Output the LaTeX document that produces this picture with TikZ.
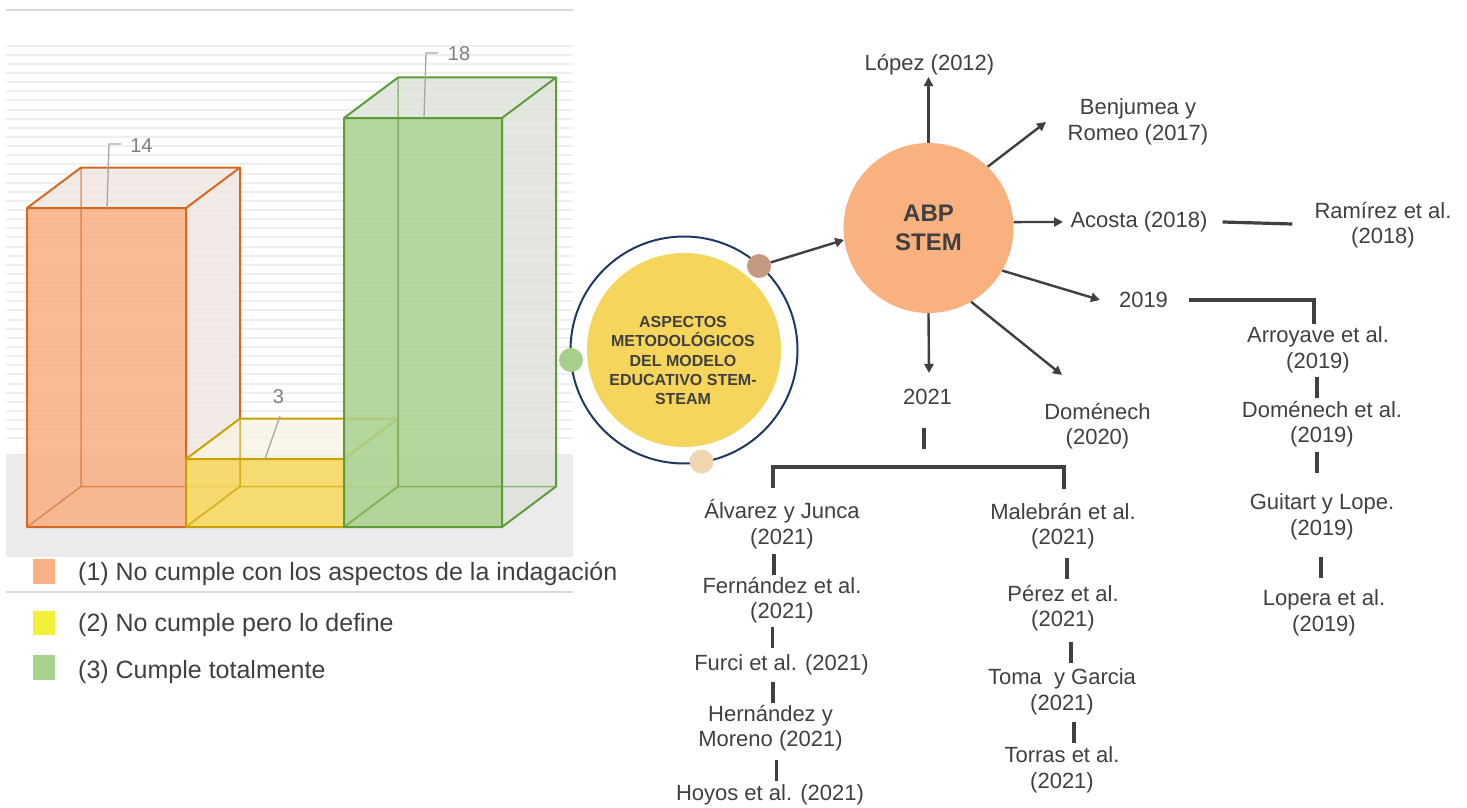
\documentclass[tikz,border=0pt]{standalone}
\usepackage{fontspec}
\setmainfont{Liberation Sans}
\usetikzlibrary{arrows.meta,calc}

\definecolor{inkgray}{HTML}{404040}
\definecolor{valgray}{HTML}{7F7F7F}
\definecolor{leadgray}{HTML}{A6A6A6}
\definecolor{gridc}{HTML}{EFEFEF}
\definecolor{floorc}{HTML}{EBEBEB}
\definecolor{rulec}{HTML}{D9D9D9}
\definecolor{ofront}{HTML}{F8B084}
\definecolor{oedge}{HTML}{D5681E}
\definecolor{oface}{HTML}{EFE5E0}
\definecolor{yfront}{HTML}{F8D95C}
\definecolor{yedge}{HTML}{C9A200}
\definecolor{yface}{HTML}{F8F3E3}
\definecolor{gfront}{HTML}{A9D18E}
\definecolor{gedge}{HTML}{5E9B3B}
\definecolor{gface}{HTML}{DDE2D9}
\definecolor{abpc}{HTML}{F9B17F}
\definecolor{corey}{HTML}{F5D55B}
\definecolor{ringc}{HTML}{1F3864}
\definecolor{dotbr}{HTML}{C69A80}
\definecolor{dotgr}{HTML}{A8D08D}
\definecolor{dotbe}{HTML}{F1D5B1}
\definecolor{legyel}{HTML}{F3F03B}

% 3-D bar: left x, right x, top y, front fill, face fill, edge colour
\newcommand\cuboid[6]{%
  \pgfmathsetmacro\bxa{#1+54}%
  \pgfmathsetmacro\bxb{#2+54}%
  \pgfmathsetmacro\byt{#3-40.5}%
  \fill[#5, fill opacity=.8] (#1,#3) -- (\bxa,\byt) -- (\bxb,\byt) -- (#2,#3) -- cycle;
  \fill[#5, fill opacity=.8] (#2,#3) -- (\bxb,\byt) -- (\bxb,486.5) -- (#2,527) -- cycle;
  \fill[#4, fill opacity=.85] (#1,#3) rectangle (#2,527);
  \draw[draw=#6, line width=1.5pt, draw opacity=.6] (#1,527) -- (\bxa,486.5) -- (\bxb,486.5) (\bxa,486.5) -- (\bxa,\byt);
  \draw[draw=#6, line width=2pt, line join=round] (#1,#3) rectangle (#2,527)
     (#1,#3) -- (\bxa,\byt) -- (\bxb,\byt) -- (#2,#3)
     (\bxb,\byt) -- (\bxb,486.5) -- (#2,527);
}

% short vertical link between two stacked labels
\newcommand\linkbar[4]{\draw[conn] ($(#3)!.5!(#4)+(#1,#2)$) ++(0,-10.5) -- ++(0,21);}

\tikzset{
  lbl/.style={font=\fontsize{22}{25.5}\selectfont, text=inkgray, align=center, inner sep=2pt},
  conn/.style={draw=inkgray, line width=3.2pt},
  arr/.style={draw=inkgray, line width=2.4pt, -{Triangle[length=9pt,width=9pt]}},
  leg/.style={font=\fontsize{25}{29}\selectfont, text=inkgray, anchor=west, inner sep=0pt},
  val/.style={font=\fontsize{20}{24}\selectfont, text=valgray, inner sep=0pt},
  leader/.style={draw=leadgray, line width=1.3pt},
  dot/.style={circle, minimum size=24pt, inner sep=0pt},
}

\begin{document}
\begin{tikzpicture}[x=1pt,y=-1pt]
\useasboundingbox (0,0) rectangle (1467,808);
\fill[white] (0,0) rectangle (1467,808);

% ---------- bar chart ----------
\draw[rulec, line width=1.5pt] (6,10) -- (573,10);
\foreach \k in {0,...,43}
  \draw[gridc, line width=2pt] (6,{45.7+9.13*\k}) -- (573,{45.7+9.13*\k});
\fill[floorc] (6,454) rectangle (573,557);

\cuboid{27}{186}{208}{ofront}{oface}{oedge}
\cuboid{186}{344}{459}{yfront}{yface}{yedge}
\cuboid{344}{502}{118}{gfront}{gface}{gedge}

\node[val] (v14) at (141.5,146) {14};
\node[val] (v18) at (459,54) {18};
\node[val] (v3) at (278.5,397) {3};
\draw[leader] (107,208) -- (109,144) -- (121,144);
\draw[leader] (424,118) -- (426,53) -- (438,53);
\draw[leader] (265,459) -- (280,416);

% legend
\draw[rulec, line width=1.5pt] (6,592) -- (573,592);
\fill[ofront] (33,559) rectangle (55,584);
\fill[legyel] (33,611) rectangle (55,635);
\fill[gfront] (33,655) rectangle (55,680);
\node[leg] (leg1) at (78,574) {(1) No cumple con los aspectos de la indagación};
\node[leg] (leg2) at (78,625) {(2) No cumple pero lo define};
\node[leg] (leg3) at (78,672) {(3) Cumple totalmente};

% ---------- central circle ----------
\draw[ringc, line width=2pt] (684,350) circle[radius=113.5pt];
\node[circle, fill=corey, minimum size=194pt, inner sep=0pt] (core) at (684,350) {};
\node[align=center, text=inkgray, inner sep=0pt,
      font=\bfseries\fontsize{16}{19.3}\selectfont] (coretitle) at (683,360.5)
      {ASPECTOS\\METODOLÓGICOS\\DEL MODELO\\EDUCATIVO STEM-\\STEAM};
\node[dot, fill=dotbr] (dotb) at (759,266) {};
\node[dot, fill=dotgr] (dotg) at (571,360) {};
\node[dot, fill=dotbe] (dote) at (701.5,461.5) {};

% ---------- ABP STEM hub ----------
\node[circle, fill=abpc, minimum size=170pt, inner sep=0pt, align=center, text=inkgray,
      font=\bfseries\fontsize{24}{29}\selectfont] (abp) at (928.5,228) {ABP\\STEM};

\node[lbl] (lopez) at (929.5,65) {López (2012)};
\node[lbl] (benj) at (1138,122) {Benjumea y\\Romeo (2017)};
\node[lbl] (acosta) at (1139,222) {Acosta (2018)};
\node[lbl] (ramirez) at (1383,225) {Ramírez et al.\\(2018)};
\node[lbl] (y2019) at (1143.5,300) {2019};
\node[lbl] (arroyave) at (1318,350) {Arroyave et al.\\(2019)};
\node[lbl] (domet) at (1322,424) {Doménech et al.\\(2019)};
\node[lbl] (guitart) at (1322,517) {Guitart y Lope.\\(2019)};
\node[lbl] (lopera) at (1324,613) {Lopera et al.\\(2019)};
\node[lbl] (y2021) at (927.5,397) {2021};
\node[lbl] (dom20) at (1097.5,426) {Doménech\\(2020)};
\node[lbl] (alvarez) at (782,524) {Álvarez y Junca\\(2021)};
\node[lbl] (fernandez) at (782,600) {Fernández et al.\\(2021)};
\node[lbl] (furci) at (781.5,665) {Furci et al. (2021)};
\node[lbl] (hernandez) at (770.5,728) {Hernández y\\Moreno (2021)};
\node[lbl] (hoyos) at (770,795) {Hoyos et al. (2021)};
\node[lbl] (malebran) at (1063,526) {Malebrán et al.\\(2021)};
\node[lbl] (perez) at (1063,608) {Pérez et al.\\(2021)};
\node[lbl] (toma) at (1062,692) {Toma\ \ y Garcia\\(2021)};
\node[lbl] (torras) at (1062,770) {Torras et al.\\(2021)};

% arrows out of the hub
\draw[arr] (dotb) -- (abp.188);
\draw[arr] (abp.90) -- ($(lopez)+(-1,12)$);
\draw[arr] (abp.46) -- ($(benj)+(-92,0)$);
\draw[arr] (abp.4) -- ($(acosta)+(-76,0)$);
\draw[arr] (abp.-30) -- ($(y2019)+(-43.5,0)$);
\draw[arr] (abp.-90) -- ($(y2021)+(1.5,-24)$);
\draw[arr] (abp.-60) -- ($(dom20)+(-35.5,-51)$);

% plain links
\draw[conn] ($(acosta.east)+(13,0)$) -- ($(ramirez.west |- acosta.east)+(-20,2)$);
\draw[conn] ($(y2019.east)+(19,0)$) -| ($(arroyave)+(-4,-26)$);
\draw[conn] ($(y2021)+(-3.5,31)$) -- ++(0,21);
\draw[conn] ($(alvarez)+(-9,-36)$) -- ++(0,-21) -| ($(malebran)+(1,-37)$);

\linkbar{-3}{0}{arroyave}{domet}
\linkbar{-5}{-8}{domet}{guitart}
\linkbar{-2}{2.5}{guitart}{lopera}
\linkbar{-8}{2}{alvarez}{fernandez}
\linkbar{-9}{4.5}{fernandez}{furci}
\linkbar{-3}{-4}{furci}{hernandez}
\linkbar{6}{9}{hernandez}{hoyos}
\linkbar{4}{1}{malebran}{perez}
\linkbar{8.5}{2}{perez}{toma}
\linkbar{12}{1}{toma}{torras}
\end{tikzpicture}
\end{document}
